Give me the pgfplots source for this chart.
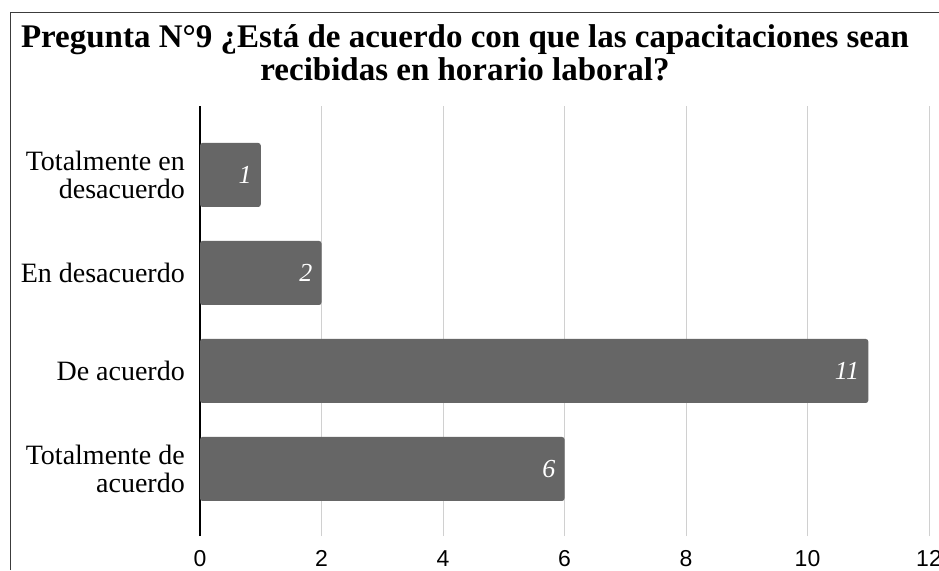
\documentclass[border=0pt]{standalone}
\usepackage{fontspec}
\setmainfont{Liberation Serif}
\newfontfamily\arial{Liberation Sans}
\usepackage{pgfplots}
\pgfplotsset{compat=1.18}
\definecolor{barc}{HTML}{666666}
\definecolor{gridc}{HTML}{D0D0D0}
\definecolor{borderc}{HTML}{3C3C3C}
\begin{document}
\begin{tikzpicture}
\useasboundingbox (0,0) rectangle (939pt,570pt);
\fill[white] (0,0) rectangle (939pt,570pt);
\draw[borderc, line width=1.5pt] (10.5pt,0) -- (10.5pt,557.5pt) -- (939pt,557.5pt);
\node[anchor=base, font=\bfseries\fontsize{33}{33}\selectfont, inner sep=0pt] at (465pt,522pt) {Pregunta N°9 ¿Está de acuerdo con que las capacitaciones sean};
\node[anchor=base, font=\bfseries\fontsize{33}{33}\selectfont, inner sep=0pt] at (465pt,489pt) {recibidas en horario laboral?};
\begin{axis}[
 at={(200pt,34pt)}, anchor=south west,
 scale only axis, width=729pt, height=430pt,
 xbar, bar width=64pt,
 xmin=0, xmax=12, ymin=-0.684, ymax=3.704,
 xtick={0,2,...,12}, ytick={0,1,2,3},
 yticklabels={Totalmente de\\acuerdo, De acuerdo, En desacuerdo, Totalmente en\\desacuerdo},
 axis line style={draw=none},
 major tick length=0pt,
 xmajorgrids, grid style={gridc, line width=1pt},
 extra x ticks={0}, extra x tick labels={},
 extra x tick style={grid style={black, line width=1.3pt}},
 xticklabel style={font=\arial\fontsize{23}{26}\selectfont, anchor=north, inner sep=0pt, yshift=-14pt},
 yticklabel style={font=\fontsize{28}{28}\selectfont, align=right, anchor=east, inner sep=0pt, xshift=-15pt},
 /pgf/number format/assume math mode=true,
 point meta=x,
 nodes near coords,
 nodes near coords style={font=\itshape\fontsize{26}{26}\selectfont, text=white, anchor=east, xshift=-9pt, inner sep=0pt},
 clip=false,
]
\addplot[fill=barc, draw=none, rounded corners=2.5pt] coordinates {(6,0) (11,1) (2,2) (1,3)};
\end{axis}
\end{tikzpicture}
\end{document}
